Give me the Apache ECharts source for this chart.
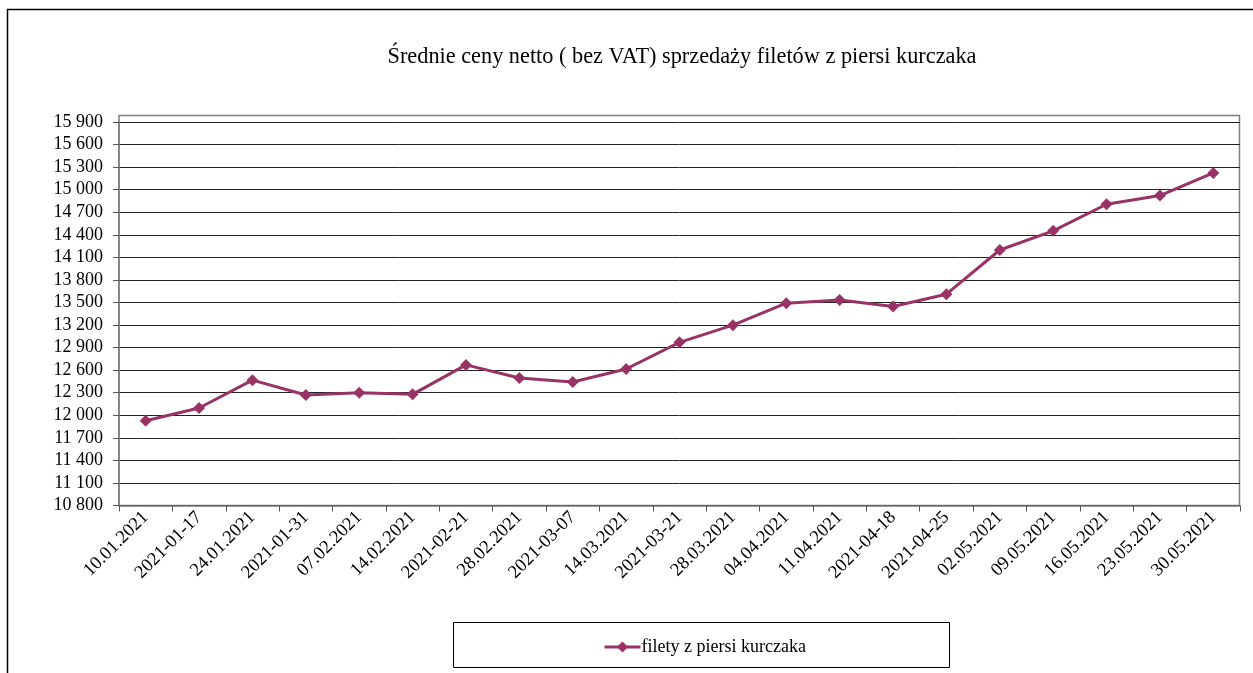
<!DOCTYPE html>
<html>
<head>
<meta charset="utf-8">
<script src="https://cdn.jsdelivr.net/npm/echarts@6/dist/echarts.min.js"></script>
<style>html,body{margin:0;padding:0;background:#fff;}#c{width:1253px;height:673px;}</style>
</head>
<body>
<div id="c"></div>
<script>
const titleText = 'Średnie ceny netto ( bez VAT) sprzedaży filetów z piersi kurczaka';
const seriesName = 'filety z piersi kurczaka';
const categories = ['10.01.2021','2021-01-17','24.01.2021','2021-01-31','07.02.2021','14.02.2021','2021-02-21','28.02.2021','2021-03-07','14.03.2021','2021-03-21','28.03.2021','04.04.2021','11.04.2021','2021-04-18','2021-04-25','02.05.2021','09.05.2021','16.05.2021','23.05.2021','30.05.2021'];
const values = [11928, 12097, 12467, 12270, 12300, 12278, 12670, 12495, 12442, 12615, 12970, 13198, 13490, 13533, 13446, 13610, 14198, 14453, 14806, 14922, 15222];
const yMin = 10800, yMax = 15900, yStep = 300;

const chart = echarts.init(document.getElementById('c'), null, {renderer: 'canvas'});
const font = 'Liberation Serif, Times New Roman, serif';
chart.setOption({
  animation: false,
  backgroundColor: '#fff',
  textStyle: {fontFamily: font},
  title: {
    text: titleText, left: 677, top: 41, textAlign: 'center',
    textStyle: {fontFamily: font, fontSize: 22.3, fontWeight: 'normal', color: '#000'}
  },
  grid: {left: 119, right: 13, top: 122, bottom: 167.5, containLabel: false},
  xAxis: {
    type: 'category', data: categories, boundaryGap: true,
    axisLine: {lineStyle: {color: '#7f7f7f', width: 1.5}},
    axisTick: {show: true, alignWithLabel: false, length: 6, lineStyle: {color: '#555'}},
    axisLabel: {rotate: 45, interval: 0, fontFamily: font, fontSize: 18.5, color: '#000', margin: 9}
  },
  yAxis: {
    type: 'value', min: yMin, max: yMax, interval: yStep,
    axisLine: {show: true, lineStyle: {color: '#7f7f7f', width: 1.5}},
    axisTick: {show: true, length: 6, lineStyle: {color: '#555'}},
    splitLine: {show: true, lineStyle: {color: '#222', width: 1}},
    axisLabel: {
      fontFamily: font, fontSize: 18, color: '#000', margin: 16,
      formatter: v => String(v).replace(/\B(?=(\d{3})+(?!\d))/g, ' ')
    }
  },
  legend: {
    data: [seriesName], left: 598, top: 633, itemWidth: 36, itemHeight: 14,
    itemGap: 2,
    lineStyle: {width: 3},
    textStyle: {fontFamily: font, fontSize: 18, color: '#000', padding: [0,0,0,-4]}
  },
  series: [{
    name: seriesName, type: 'line', data: values,
    symbol: 'diamond', symbolSize: 12,
    lineStyle: {color: '#993366', width: 3},
    itemStyle: {color: '#993366'}
  }],
  graphic: [
    {type: 'rect', shape: {x: 7.5, y: 9.5, width: 1260, height: 680}, style: {fill: 'none', stroke: '#000', lineWidth: 1.5}, silent: true},
    {type: 'rect', shape: {x: 119, y: 115.5, width: 1120.5, height: 390}, style: {fill: 'none', stroke: '#7f7f7f', lineWidth: 1.5}, silent: true, z: 0},
    {type: 'rect', shape: {x: 453.5, y: 622.5, width: 496, height: 45}, style: {fill: 'none', stroke: '#000', lineWidth: 1}, silent: true}
  ]
});
</script>
</body>
</html>
